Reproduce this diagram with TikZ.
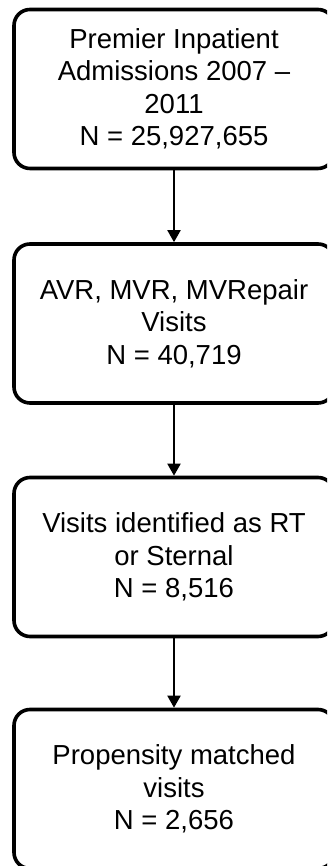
\documentclass[tikz,border=0pt]{standalone}
\usepackage{fontspec}
\setmainfont{Liberation Sans}
\usetikzlibrary{arrows.meta}
\begin{document}
\begin{tikzpicture}[x=1pt,y=1pt,
  flowbox/.style={draw=black, line width=3.6pt, rounded corners=16pt,
    minimum width=320pt, minimum height=159pt, align=center,
    font=\fontsize{27.5}{32.5}\selectfont, inner sep=0pt},
  flowarrow/.style={line width=2pt, -{Triangle[length=12pt,width=13pt]}}]
\useasboundingbox (0,0) rectangle (327,866);
\clip (0,0) rectangle (327,866);
\node[flowbox] (b1) at (174,777) {Premier Inpatient\\Admissions 2007 --\\2011\\N = 25,927,655};
\node[flowbox] (b2) at (174,542.5) {AVR, MVR, MVRepair\\Visits\\N = 40,719};
\node[flowbox] (b3) at (174,309) {Visits identified as RT\\or Sternal\\N = 8,516};
\node[flowbox] (b4) at (174,77) {Propensity matched\\visits\\N = 2,656};
\draw[flowarrow] (b1.south) -- (b2.north);
\draw[flowarrow] (b2.south) -- (b3.north);
\draw[flowarrow] (b3.south) -- (b4.north);
\end{tikzpicture}
\end{document}
